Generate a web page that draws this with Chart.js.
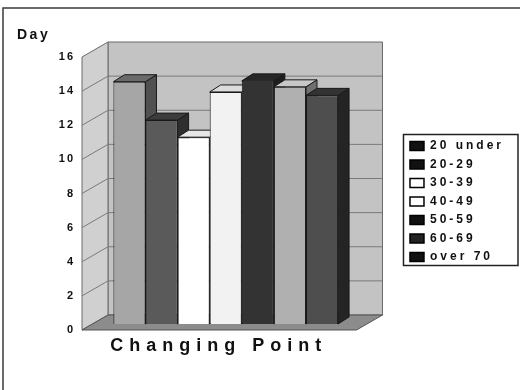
<!DOCTYPE html>
<html>
<head>
<meta charset="utf-8">
<script src="https://cdn.jsdelivr.net/npm/chart.js@4"></script>
<style>
html,body{margin:0;padding:0;background:#fff}
#wrap{width:520px;height:390px}
</style>
</head>
<body>
<div id="wrap"><canvas id="c" width="520" height="390"></canvas></div>
<script>
// ---------- data ----------
const categories = ['Changing Point'];
const seriesNames = ['20 under', '20-29', '30-39', '40-49', '50-59', '60-69', 'over 70'];
const seriesValues = [14.2, 11.95, 10.95, 13.6, 14.25, 13.9, 13.4];
const yTicks = [0, 2, 4, 6, 8, 10, 12, 14, 16];
const yTitle = 'Day';

// ---------- styles ----------
const frontColors = ['#a6a6a6', '#5a5a5a', '#ffffff', '#f2f2f2', '#333333', '#b0b0b0', '#4e4e4e'];
const topColors   = ['#6a6a6a', '#3c3c3c', '#e6e6e6', '#dcdcdc', '#262626', '#c8c8c8', '#333333'];
const sideColors  = ['#505050', '#2e2e2e', '#c8c8c8', '#bdbdbd', '#1e1e1e', '#707070', '#242424'];
const legendSwatch = ['#111111', '#111111', '#ffffff', '#ffffff', '#111111', '#222222', '#111111'];
const FONT = "'Liberation Sans', Arial, Helvetica, sans-serif";
const LEGEND_GAP = 44;

// letter spacing by font size (wide-tracked lettering as in the reference)
const spacingBySize = {18: '6px', 14: '2.5px', 12: '3px', 11: '2px'};
(function () {
  const P = CanvasRenderingContext2D.prototype;
  const setSp = ctx => {
    if (!('letterSpacing' in ctx)) return 0;
    const m = /(\d+(?:\.\d+)?)px/.exec(ctx.font);
    const s = (m && spacingBySize[Math.round(+m[1])]) || '0px';
    ctx.letterSpacing = s;
    return parseFloat(s) || 0;
  };
  const f = P.fillText, mt = P.measureText;
  P.fillText = function (t, x, y, w) { setSp(this); return w === undefined ? f.call(this, t, x, y) : f.call(this, t, x, y, w); };
  P.measureText = function (t) {
    const sp = setSp(this);
    const m1 = mt.call(this, t);
    if (!sp) return m1;
    const saved = this.letterSpacing;
    this.letterSpacing = '0px';
    const m0 = mt.call(this, t);
    this.letterSpacing = saved;
    if (Math.abs(m1.width - m0.width) > 0.5) return m1;
    const n = [...String(t)].length;
    return {
      width: m0.width + n * sp,
      actualBoundingBoxAscent: m0.actualBoundingBoxAscent,
      actualBoundingBoxDescent: m0.actualBoundingBoxDescent,
      actualBoundingBoxLeft: m0.actualBoundingBoxLeft,
      actualBoundingBoxRight: m0.actualBoundingBoxRight + n * sp,
      fontBoundingBoxAscent: m0.fontBoundingBoxAscent,
      fontBoundingBoxDescent: m0.fontBoundingBoxDescent
    };
  };
})();

// 3D geometry offsets (pixels)
const D = {frontDx: -10, frontDy: 6, backDx: 16, backDy: -9, extra: 7, barDx: 11, barDy: 7};

function poly(ctx, pts, fill, stroke, lw) {
  ctx.beginPath();
  pts.forEach((p, i) => i ? ctx.lineTo(p[0], p[1]) : ctx.moveTo(p[0], p[1]));
  ctx.closePath();
  if (fill) { ctx.fillStyle = fill; ctx.fill(); }
  if (stroke) { ctx.strokeStyle = stroke; ctx.lineWidth = lw || 1; ctx.stroke(); }
}

const threeD = {
  id: 'threeD',
  afterInit(chart) {
    // leave a gap between the plot and the legend box
    const lg = chart.legend;
    if (!lg) return;
    const fit0 = lg.fit;
    lg.fit = function () { fit0.apply(this, arguments); if (this.isHorizontal && !this.isHorizontal()) this.width += LEGEND_GAP; };
    const draw0 = lg.draw;
    lg.draw = function () {
      const L = this.left;
      this.left = L + LEGEND_GAP;
      draw0.apply(this, arguments);
      this.left = L;
    };
    chart.update();
  },
  beforeDraw(chart) {
    const {ctx} = chart;
    ctx.save();
    ctx.fillStyle = '#fff';
    ctx.fillRect(0, 0, chart.width, chart.height);
    ctx.strokeStyle = '#3a3a3a';
    ctx.lineWidth = 1.5;
    ctx.beginPath();
    ctx.moveTo(3, chart.height);
    ctx.lineTo(3, 8);
    ctx.lineTo(chart.width, 8);
    ctx.stroke();
    ctx.restore();
  },
  beforeDatasetsDraw(chart) {
    const {ctx, chartArea: a, scales: {y}} = chart;
    const y0 = y.getPixelForValue(yTicks[0]);
    const yT = y.getPixelForValue(yTicks[yTicks.length - 1]);
    const fL = a.left + D.frontDx, bL = a.left + D.backDx;
    const bR = a.right + D.backDx + D.extra, fR = a.right + D.frontDx + D.extra;
    ctx.save();
    poly(ctx, [[bL, yT + D.backDy], [bR, yT + D.backDy], [bR, y0 + D.backDy], [bL, y0 + D.backDy]], '#c3c3c3', '#6a6a6a', 1);
    poly(ctx, [[fL, yT + D.frontDy], [bL, yT + D.backDy], [bL, y0 + D.backDy], [fL, y0 + D.frontDy]], '#d0d0d0', '#6a6a6a', 1);
    poly(ctx, [[fL, y0 + D.frontDy], [bL, y0 + D.backDy], [bR, y0 + D.backDy], [fR, y0 + D.frontDy]], '#8c8c8c', '#555', 1);
    ctx.strokeStyle = '#7a7a7a';
    ctx.lineWidth = 1;
    yTicks.slice(1, -1).forEach(v => {
      const p = y.getPixelForValue(v);
      ctx.beginPath();
      ctx.moveTo(fL, p + D.frontDy);
      ctx.lineTo(bL, p + D.backDy);
      ctx.lineTo(bR, p + D.backDy);
      ctx.stroke();
    });
    chart.data.datasets.forEach((ds, i) => {
      const meta = chart.getDatasetMeta(i);
      meta.data.forEach(el => {
        const {x, y: top, base, width} = el.getProps(['x', 'y', 'base', 'width'], true);
        const xl = x - width / 2, xr = x + width / 2;
        poly(ctx, [[xr, top], [xr + D.barDx, top - D.barDy], [xr + D.barDx, base - D.barDy], [xr, base]], sideColors[i], '#1a1a1a', 1);
        poly(ctx, [[xl, top], [xr, top], [xr + D.barDx, top - D.barDy], [xl + D.barDx, top - D.barDy]], topColors[i], '#1a1a1a', 1);
      });
    });
    ctx.restore();
  },
  afterDraw(chart) {
    const lg = chart.legend;
    if (!lg || !lg.legendHitBoxes || !lg.legendHitBoxes.length) return;
    const hb = lg.legendHitBoxes;
    const left = lg.left + LEGEND_GAP;
    const top = hb[0].top - 5.5;
    const bottom = hb[hb.length - 1].top + hb[hb.length - 1].height + 2.5;
    const {ctx} = chart;
    ctx.save();
    ctx.strokeStyle = '#222';
    ctx.lineWidth = 1.5;
    ctx.strokeRect(left, top, (chart.width - 2) - left, bottom - top);
    ctx.restore();
  }
};

const datasets = seriesNames.map((name, i) => ({
  label: name,
  data: [seriesValues[i]],
  backgroundColor: frontColors[i],
  borderColor: '#1a1a1a',
  borderWidth: 1
}));

new Chart(document.getElementById('c'), {
  type: 'bar',
  data: {labels: categories, datasets},
  plugins: [threeD],
  options: {
    responsive: false,
    animation: false,
    devicePixelRatio: 1,
    layout: {padding: {top: 13, left: 17, right: 6, bottom: 0}},
    datasets: {bar: {categoryPercentage: 0.84, barPercentage: 1}},
    scales: {
      x: {
        type: 'category',
        grid: {display: false},
        border: {display: false},
        ticks: {font: {family: FONT, size: 18, weight: 'bold'}, color: '#111', padding: 3, labelOffset: -7, maxRotation: 0},
        afterFit(s) { s.height = 66; }
      },
      y: {
        min: yTicks[0],
        max: yTicks[yTicks.length - 1],
        grid: {display: false, drawTicks: false},
        border: {display: false},
        afterBuildTicks(s) { s.ticks = yTicks.map(v => ({value: v})); },
        ticks: {font: {family: FONT, size: 11, weight: 'bold'}, color: '#111', padding: 17, labelOffset: 6},
        afterFit(s) { s.width = 75; }
      }
    },
    plugins: {
      tooltip: {enabled: false},
      title: {
        display: true,
        text: yTitle,
        align: 'start',
        position: 'top',
        color: '#111',
        font: {family: FONT, size: 14, weight: 'bold'},
        padding: {top: 14, bottom: 7.2}
      },
      legend: {
        position: 'right',
        align: 'center',
        labels: {
          font: {family: FONT, size: 12, weight: 'bold'},
          color: '#111',
          boxWidth: 14,
          boxHeight: 9,
          padding: 6.5,
          generateLabels(chart) {
            const items = Chart.defaults.plugins.legend.labels.generateLabels(chart);
            items.forEach(it => {
              it.fillStyle = legendSwatch[it.datasetIndex];
              it.strokeStyle = '#000';
              it.lineWidth = 1.5;
            });
            return items;
          }
        }
      }
    }
  }
});
</script>
</body>
</html>
